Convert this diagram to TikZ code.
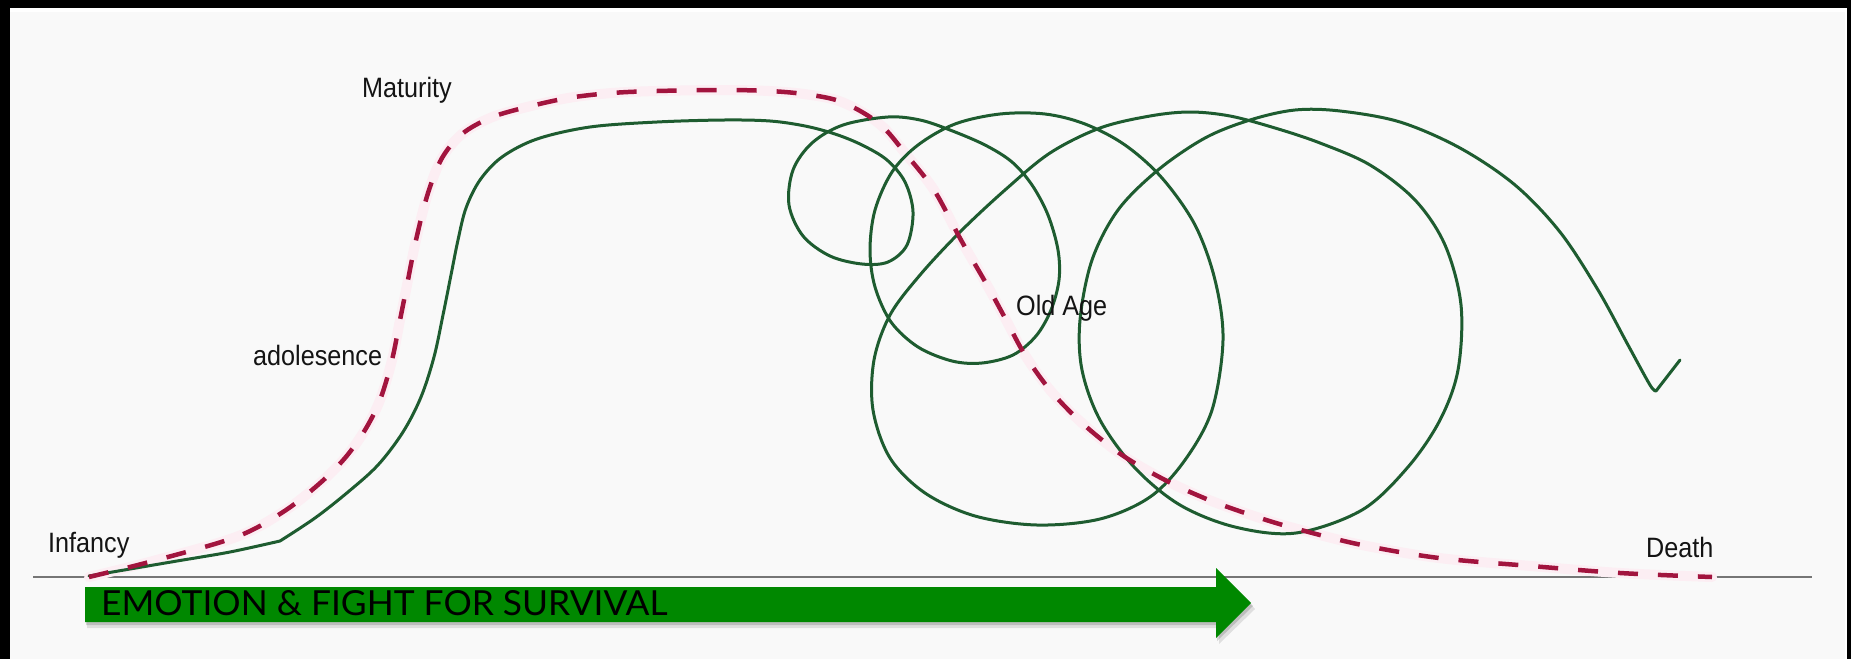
\documentclass[tikz,border=0pt]{standalone}
\usepackage{fontspec}
\setmainfont{Liberation Sans}
\newfontfamily\arrowfont{Lato}
\usepackage{graphicx}
\definecolor{bgc}{RGB}{249,249,249}
\definecolor{lifegreen}{RGB}{30,92,48}
\definecolor{dashred}{RGB}{162,20,62}
\definecolor{halo}{RGB}{252,238,243}
\definecolor{arrowgreen}{RGB}{0,136,0}
\definecolor{axisgray}{RGB}{118,118,118}
\tikzset{
  lifeline/.style={draw=lifegreen, line width=3pt, line join=round, line cap=round},
  idealline/.style={draw=dashred, line width=4.5pt, dash pattern=on 20pt off 20pt},
  idealhalo/.style={draw=halo, line width=10pt, line join=round, line cap=round},
  stagelabel/.style={anchor=base west, inner sep=0pt, font=\fontsize{28}{30}\selectfont, text={rgb,255:red,20;green,20;blue,20}},
}
\begin{document}
\begin{tikzpicture}[x=1pt,y=-1pt]
\useasboundingbox (0,0) rectangle (1851,659);
% frame and background
\fill[black] (0,0) rectangle (1851,659);
\fill[white] (10,8) rectangle (1847,659);
\fill[bgc] (10,12) rectangle (1845,659);

% baseline
\coordinate (axisL) at (33,577);
\coordinate (axisR) at (1812,577);
\draw[axisgray, line width=2.5pt] (axisL) -- (axisR);

% dashed (ideal) curve halo
\draw[idealhalo] plot[smooth, tension=0.55] coordinates {
(89,577) (153,561) (236,537) (283,512) (319,484) (345,458) (365,430) (380,400) (392,360) (400,320) (407,285) (416,240) (428,193) (442,158) (462,134) (490,118) (523,108) (568,98) (612,93) (657,91) (724,90) (769,91) (804,94) (836,100) (862,112) (884,128) (905,153) (934,190) (961,240) (987,285) (1005,318) (1025,355) (1050,390) (1082,423) (1122,455) (1165,480) (1209,500) (1260,518) (1301,530) (1362,545) (1439,558) (1531,566) (1620,573) (1712,577)};

% green life curve
\draw[lifeline] plot[smooth, tension=0.5] coordinates {
(89,576) (130,569) (177,561) (230,552) (280,541)}
-- plot[smooth, tension=0.55] coordinates {
(280,541) (315,518) (348,492) (378,465) (403,432) (421,397) (434,357) (443,315) (451,275) (458,240) (466,208) (480,180) (502,157) (537,139) (590,127) (657,122) (724,120) (770,121) (805,126) (835,134) (862,145) (887,160) (905,182) (913,212) (907,245) (888,262) (862,264) (830,256) (803,236) (789,205) (793,170) (812,143) (843,125) (888,117) (920,120) (950,130) (985,145) (1012,162) (1032,185) (1048,215) (1058,250) (1059,280) (1051,310) (1036,336) (1013,355) (982,363) (952,361) (918,347) (891,322) (875,287) (870,250) (875,210) (892,172) (918,145) (955,124) (1000,114) (1045,114) (1085,124) (1125,145) (1162,178) (1195,225) (1215,280) (1223,340) (1212,410) (1185,460) (1150,497) (1100,519) (1037,525) (975,516) (925,493) (890,458) (873,410) (874,360) (890,315) (920,275) (960,232) (1005,190) (1050,153) (1100,128) (1150,116) (1190,112) (1230,116) (1275,128) (1320,143) (1370,165) (1415,200) (1445,245) (1461,305) (1458,370) (1440,420) (1408,467) (1362,510) (1296,533) (1235,527) (1180,505) (1135,468) (1100,420) (1082,370) (1080,320) (1092,260) (1118,210) (1158,170) (1205,138) (1250,120) (1295,110) (1340,111) (1400,122) (1460,148) (1515,185) (1560,232) (1598,290) (1628,345) (1650,385) (1656,391)}
-- (1680,360);

% dashed (ideal) curve
\draw[idealline] plot[smooth, tension=0.55] coordinates {
(89,577) (153,561) (236,537) (283,512) (319,484) (345,458) (365,430) (380,400) (392,360) (400,320) (407,285) (416,240) (428,193) (442,158) (462,134) (490,118) (523,108) (568,98) (612,93) (657,91) (724,90) (769,91) (804,94) (836,100) (862,112) (884,128) (905,153) (934,190) (961,240) (987,285) (1005,318) (1025,355) (1050,390) (1082,423) (1122,455) (1165,480) (1209,500) (1260,518) (1301,530) (1362,545) (1439,558) (1531,566) (1620,573) (1712,577)};

% labels
\node[stagelabel] (maturity) at (362,97) {\scalebox{0.9}[1]{Maturity}};
\node[stagelabel] (adolescence) at (253,365) {\scalebox{0.9}[1]{adolesence}};
\node[stagelabel] (infancy) at (48,552) {\scalebox{0.9}[1]{Infancy}};
\node[stagelabel] (oldage) at (1016,315) {\scalebox{0.9}[1]{Old Age}};
\node[stagelabel] (death) at (1646,557) {\scalebox{0.9}[1]{Death}};

% green arrow with shadow
\fill[black, opacity=0.10] (87,592) -- (1219,592) -- (1219,573) -- (1255,609) -- (1219,644) -- (1219,628) -- (87,628) -- cycle;
\fill[black, opacity=0.15] (86,589) -- (1217,589) -- (1217,570) -- (1253,606) -- (1217,641) -- (1217,625) -- (86,625) -- cycle;
\fill[arrowgreen] (85,587) -- (1216,587) -- (1216,568) -- (1251,603) -- (1216,638) -- (1216,622) -- (85,622) -- cycle;
\node[anchor=base west, inner sep=0pt, text=black] (survival) at (101,615)
  {\resizebox{566pt}{25pt}{\arrowfont EMOTION \& FIGHT FOR SURVIVAL}};
\end{tikzpicture}
\end{document}
